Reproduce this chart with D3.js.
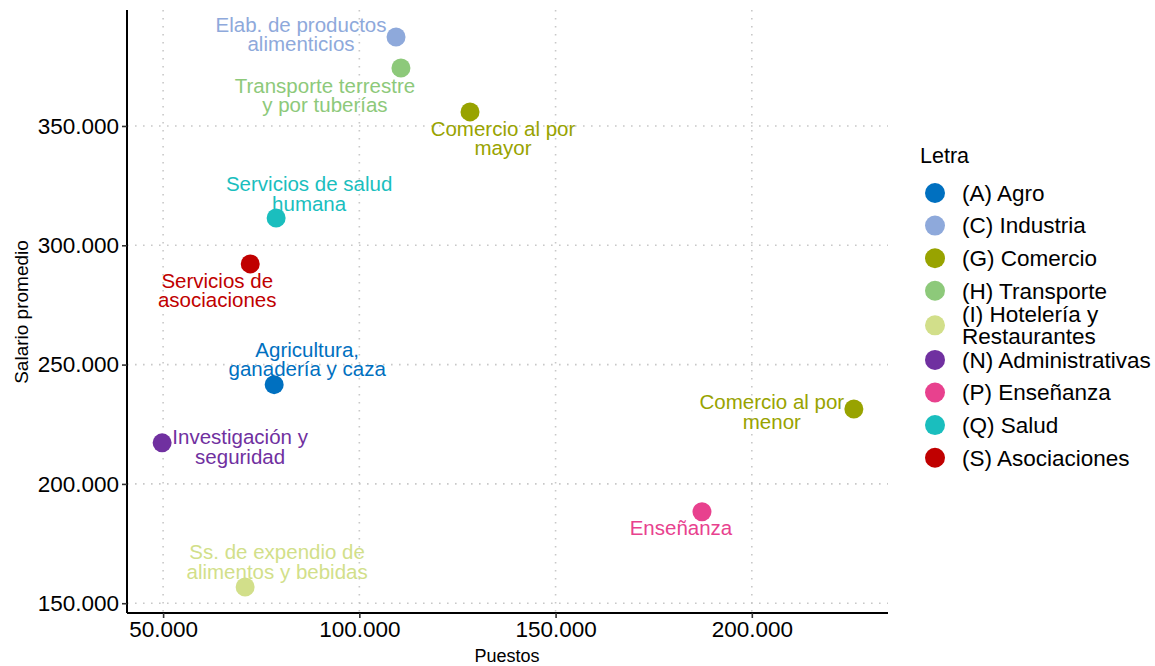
<!DOCTYPE html>
<html>
<head>
<meta charset="utf-8">
<script src="https://cdn.jsdelivr.net/npm/d3@7"></script>
<style>
  html, body { margin: 0; padding: 0; background: #fff; }
  svg { display: block; font-family: "Liberation Sans", Arial, sans-serif; }
</style>
</head>
<body>
<svg id="chart" width="1155" height="666"></svg>
<script>
// ---- data ----
const letras = ["(A) Agro", "(C) Industria", "(G) Comercio", "(H) Transporte",
  "(I) Hotelería y\nRestaurantes", "(N) Administrativas", "(P) Enseñanza", "(Q) Salud", "(S) Asociaciones"];
const letraColors = ["#0070C0", "#8EA9DB", "#98A300", "#8DC97A", "#D2DF8A", "#7030A0", "#E8418E", "#1ABEBE", "#C00000"];

const ramas = ["Elab. de productos\nalimenticios", "Transporte terrestre\ny por tuberías", "Comercio al por\nmayor",
  "Servicios de salud\nhumana", "Servicios de\nasociaciones", "Agricultura,\nganadería y caza",
  "Investigación y\nseguridad", "Ss. de expendio de\nalimentos y bebidas", "Comercio al por\nmenor", "Enseñanza"];
const ramaLetra = ["(C) Industria", "(H) Transporte", "(G) Comercio", "(Q) Salud", "(S) Asociaciones",
  "(A) Agro", "(N) Administrativas", "(I) Hotelería y\nRestaurantes", "(G) Comercio", "(P) Enseñanza"];
const puestos = [109350, 110600, 128200, 78800, 72200, 78300, 49750, 70900, 226000, 187300];
const salario = [387300, 374300, 355900, 311400, 292200, 241600, 217200, 156800, 231400, 188300];

const xTicks = [50000, 100000, 150000, 200000];
const yTicks = [150000, 200000, 250000, 300000, 350000];

// label nudges (pixels, relative to point)
const labelDx = [-95, -76, 33, 33, -33, 33, 78, 32, -82, -21];
const labelDy = [-2.5, 27.5, 26.5, -24.5, 26.5, -25.5, 4, -25, 3, 16];

// ---- layout ----
const svg = d3.select("#chart");
const fmt = v => d3.format(",")(v).replace(/,/g, ".");
const x = d3.scaleLinear().domain([40800, 234700]).range([127, 888]);
const y = d3.scaleLinear().domain([145900, 398600]).range([613, 10]);
const color = d3.scaleOrdinal().domain(letras).range(letraColors);

// grid
const grid = svg.append("g");
grid.selectAll("line.gx").data(xTicks).join("line")
  .attr("x1", d => x(d)).attr("x2", d => x(d)).attr("y1", 10).attr("y2", 613)
  .attr("stroke", "#c8c8c8").attr("stroke-width", 1.6).attr("stroke-dasharray", "1.6,6.4");
grid.selectAll("line.gy").data(yTicks).join("line")
  .attr("y1", d => y(d)).attr("y2", d => y(d)).attr("x1", 127).attr("x2", 888)
  .attr("stroke", "#c8c8c8").attr("stroke-width", 1.6).attr("stroke-dasharray", "1.6,6.4");

// axes
const xAxis = svg.append("g").attr("transform", "translate(0,613)")
  .call(d3.axisBottom(x).tickValues(xTicks).tickFormat(fmt).tickSize(5).tickPadding(3));
const yAxis = svg.append("g").attr("transform", "translate(127,0)")
  .call(d3.axisLeft(y).tickValues(yTicks).tickFormat(fmt).tickSize(5).tickPadding(3));
[xAxis, yAxis].forEach(a => {
  a.select(".domain").attr("stroke", "#000").attr("stroke-width", 2);
  a.selectAll(".tick line").attr("stroke", "#333").attr("stroke-width", 1.6);
  a.selectAll(".tick text").attr("fill", "#000").style("font-size", "22.5px")
    .style("font-family", '"Liberation Sans", Arial, sans-serif');
});
xAxis.select(".domain").attr("d", "M127,0H888");
yAxis.select(".domain").attr("d", "M0,10V613");

// axis titles
svg.append("text").attr("x", 507).attr("y", 656).attr("dy", "0.35em").attr("text-anchor", "middle")
  .style("font-size", "18px").attr("fill", "#000").text("Puestos");
svg.append("text").attr("transform", "translate(28,312) rotate(-90)").attr("text-anchor", "middle")
  .style("font-size", "19px").attr("fill", "#000").text("Salario promedio");

// points
const pts = ramas.map((r, i) => ({ r, l: ramaLetra[i], px: puestos[i], sy: salario[i], dx: labelDx[i], dy: labelDy[i] }));
svg.append("g").selectAll("circle").data(pts).join("circle")
  .attr("cx", d => x(d.px)).attr("cy", d => y(d.sy)).attr("r", 9.5)
  .attr("fill", d => color(d.l));

// labels
const lh = 19.5;
const lab = svg.append("g").selectAll("text").data(pts).join("text")
  .attr("text-anchor", "middle").style("font-size", "20.5px")
  .attr("fill", d => color(d.l));
lab.each(function(d) {
  const lines = d.r.split("\n");
  const cx = x(d.px) + d.dx, cy = y(d.sy) + d.dy;
  const t = d3.select(this);
  lines.forEach((ln, k) => {
    t.append("tspan").attr("x", cx)
      .attr("y", cy + (k - (lines.length - 1) / 2) * lh)
      .attr("dy", "0.35em").text(ln);
  });
});

// legend
const leg = svg.append("g");
leg.append("text").attr("x", 920).attr("y", 155).attr("dy", "0.35em")
  .style("font-size", "21.5px").attr("fill", "#000").text("Letra");
let cy = 193;
letras.forEach((l, i) => {
  const lines = l.split("\n");
  if (i > 0) {
    const prevLines = letras[i - 1].split("\n").length;
    cy += (prevLines > 1 ? 36.5 : 32.6) / 2 + (lines.length > 1 ? 36.5 : 32.6) / 2;
  }
  leg.append("circle").attr("cx", 935).attr("cy", cy).attr("r", 10).attr("fill", letraColors[i]);
  const t = leg.append("text").style("font-size", "22.5px").attr("fill", "#000");
  lines.forEach((ln, k) => {
    t.append("tspan").attr("x", 962).attr("y", cy + (k - (lines.length - 1) / 2) * 22)
      .attr("dy", "0.35em").text(ln);
  });
});
</script>
</body>
</html>
